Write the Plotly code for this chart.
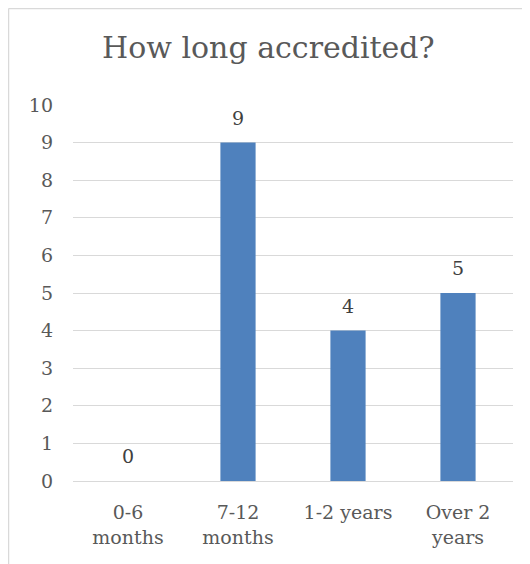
import plotly.graph_objects as go

categories = ["0-6<br>months", "7-12<br>months", "1-2 years", "Over 2<br>years"]
values = [0, 9, 4, 5]
y_ticks = list(range(0, 11))

# page body has an 8px margin, so layout coords = reference coords - 8
OFF = 8
W, H = 530, 564
L, R, T, B = 73 - OFF, W - (513 - OFF), 105 - OFF, 83 + OFF
pw, ph = W - L - R, H - T - B

def px(x):
    return (x - OFF - L) / pw

def py(y):
    return (H - B - (y - OFF)) / ph

FONT = "DejaVu Serif"
GREY = "#595959"

fig = go.Figure()
fig.add_trace(go.Bar(
    x=categories, y=values,
    marker=dict(color="#4F81BD", line=dict(width=0)),
    width=0.32,
))

for c, v in zip(categories, values):
    fig.add_annotation(x=c, y=v, text=str(v), showarrow=False,
                       yanchor="middle", yshift=25,
                       font=dict(family=FONT, size=19, color="#404040"))

fig.add_annotation(x=px(268.5), y=py(48), xref="paper", yref="paper",
                   text="How long accredited?", showarrow=False,
                   xanchor="center", yanchor="middle",
                   font=dict(family=FONT, size=30, color=GREY))

# chart frame (cut off at right and bottom)
fig.add_shape(type="line", xref="paper", yref="paper",
              x0=px(8.5), x1=px(545), y0=py(8.5), y1=py(8.5),
              line=dict(color="#D9D9D9", width=1.5))
fig.add_shape(type="line", xref="paper", yref="paper",
              x0=px(8.5), x1=px(8.5), y0=py(8.5), y1=py(580),
              line=dict(color="#D9D9D9", width=1.5))

fig.update_layout(
    width=W, height=H,
    margin=dict(l=L, r=R, t=T, b=B),
    plot_bgcolor="white", paper_bgcolor="white",
    showlegend=False,
    font=dict(family=FONT, size=19, color=GREY),
)
fig.update_yaxes(range=[0, 10], tickvals=y_ticks, showgrid=True,
                 gridcolor="#D9D9D9", gridwidth=1, zeroline=False,
                 showline=False, ticks="", ticklabelstandoff=19,
                 tickfont=dict(family=FONT, size=19, color=GREY),
                 fixedrange=True)
fig.update_xaxes(showline=True, linecolor="#D9D9D9", linewidth=1, ticks="",
                 ticklabelstandoff=14,
                 tickfont=dict(family=FONT, size=19, color=GREY))

fig.write_html("out.html")
